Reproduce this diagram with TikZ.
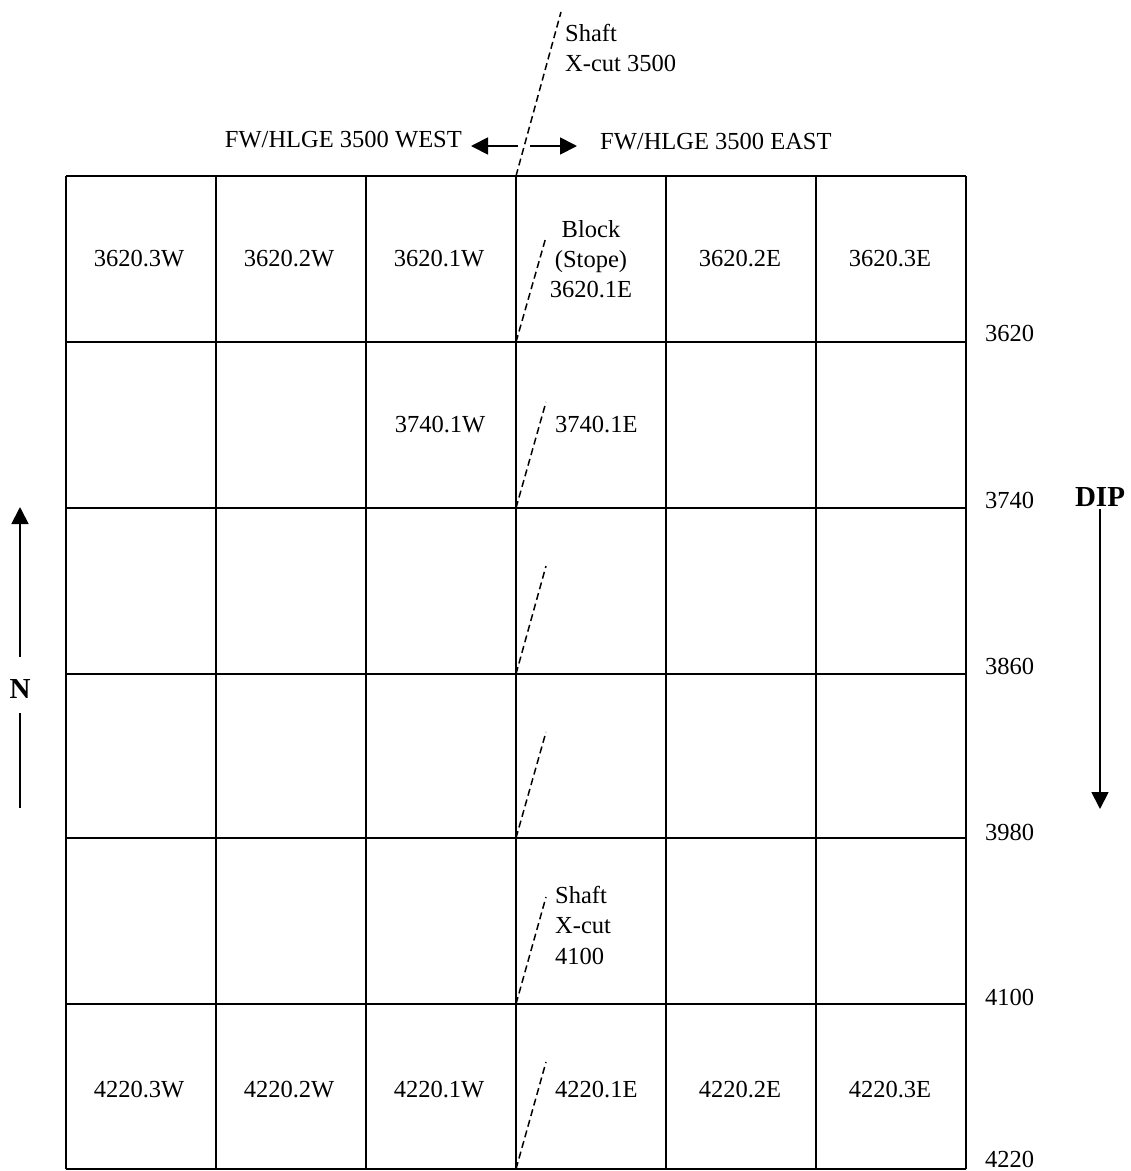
\documentclass[tikz,border=0pt]{standalone}
\usepackage{fontspec}
\setmainfont{Liberation Serif}
\usetikzlibrary{arrows.meta}
\begin{document}
\begin{tikzpicture}[x=1pt,y=-1pt,
  grid/.style={line width=1.8pt},
  shaftline/.style={line width=1.5pt,dash pattern=on 7pt off 4pt},
  lbl/.style={font=\fontsize{24.5}{29.8}\selectfont,inner sep=0pt,align=center},
  lbll/.style={font=\fontsize{24.5}{30.5}\selectfont,inner sep=0pt,align=left,anchor=west},
  bold/.style={font=\fontsize{29}{34}\selectfont\bfseries,inner sep=0pt},
  arr/.style={line width=1.8pt,-{Triangle[width=17pt,length=17pt]}}]
\useasboundingbox (0,0) rectangle (1131,1171);
% grid
\foreach \y in {176,342,508,674,838,1004,1169}{\draw[grid] (66,\y) -- (966,\y);}
\foreach \x in {66,216,366,516,666,816,966}{\draw[grid] (\x,176) -- (\x,1169);}
% corner coordinates for shaft lines
\coordinate (c0) at (516,176);
\coordinate (c1) at (516,342);
\coordinate (c2) at (516,508);
\coordinate (c3) at (516,674);
\coordinate (c4) at (516,838);
\coordinate (c5) at (516,1004);
\coordinate (c6) at (516,1169);
\coordinate (t0) at (561,12);
\coordinate (t1) at (546,237);
\coordinate (t2) at (546,402);
\coordinate (t3) at (546,566);
\coordinate (t4) at (546,732);
\coordinate (t5) at (546,897);
\coordinate (t6) at (546,1062);
\draw[shaftline] (c0) -- (t0);
\draw[shaftline] (c1) -- (t1);
\draw[shaftline] (c2) -- (t2);
\draw[shaftline] (c3) -- (t3);
\draw[shaftline] (c4) -- (t4);
\draw[shaftline] (c5) -- (t5);
\draw[shaftline] (c6) -- (t6);
% top labels
\node[lbll] (shaftTop) at (565,48) {Shaft\\X-cut 3500};
\node[lbl,anchor=east] (west) at (462,140) {FW/HLGE 3500 WEST};
\node[lbl,anchor=west] (east) at (600,142) {FW/HLGE 3500 EAST};
\coordinate (wa) at (518,146);
\coordinate (wb) at (471,146);
\coordinate (ea) at (530,146);
\coordinate (eb) at (577,146);
\draw[arr] (wa) -- (wb);
\draw[arr] (ea) -- (eb);
% cell labels row 1
\node[lbl] (r1c1) at (139,259) {3620.3W};
\node[lbl] (r1c2) at (289,259) {3620.2W};
\node[lbl] (r1c3) at (439,259) {3620.1W};
\node[lbl] (r1c4) at (591,259) {Block\\(Stope)\\3620.1E};
\node[lbl] (r1c5) at (740,259) {3620.2E};
\node[lbl] (r1c6) at (890,259) {3620.3E};
% row 2
\node[lbl] (r2c3) at (440,425) {3740.1W};
\node[lbl,anchor=west] (r2c4) at (555,425) {3740.1E};
% row 5
\node[lbll] (shaftLow) at (555,925) {Shaft\\X-cut\\4100};
% row 6
\node[lbl] (r6c1) at (139,1090) {4220.3W};
\node[lbl] (r6c2) at (289,1090) {4220.2W};
\node[lbl] (r6c3) at (439,1090) {4220.1W};
\node[lbl,anchor=west] (r6c4) at (555,1090) {4220.1E};
\node[lbl] (r6c5) at (740,1090) {4220.2E};
\node[lbl] (r6c6) at (890,1090) {4220.3E};
% right level labels
\node[lbll] (l3620) at (985,333) {3620};
\node[lbll] (l3740) at (985,500) {3740};
\node[lbll] (l3860) at (985,666) {3860};
\node[lbll] (l3980) at (985,832) {3980};
\node[lbll] (l4100) at (985,997) {4100};
\node[lbll] (l4220) at (985,1159) {4220};
% DIP
\node[bold] (dip) at (1100,497) {DIP};
\coordinate (dipStart) at (1100,509);
\coordinate (dipEnd) at (1100,809);
\draw[arr] (dipStart) -- (dipEnd);
% North
\node[bold] (north) at (20,689) {N};
\coordinate (nTop) at (20,507);
\coordinate (nA) at (20,657);
\coordinate (nB) at (20,713);
\coordinate (nBot) at (20,808);
\draw[arr] (nA) -- (nTop);
\draw[line width=1.8pt] (nB) -- (nBot);
\end{tikzpicture}
\end{document}
